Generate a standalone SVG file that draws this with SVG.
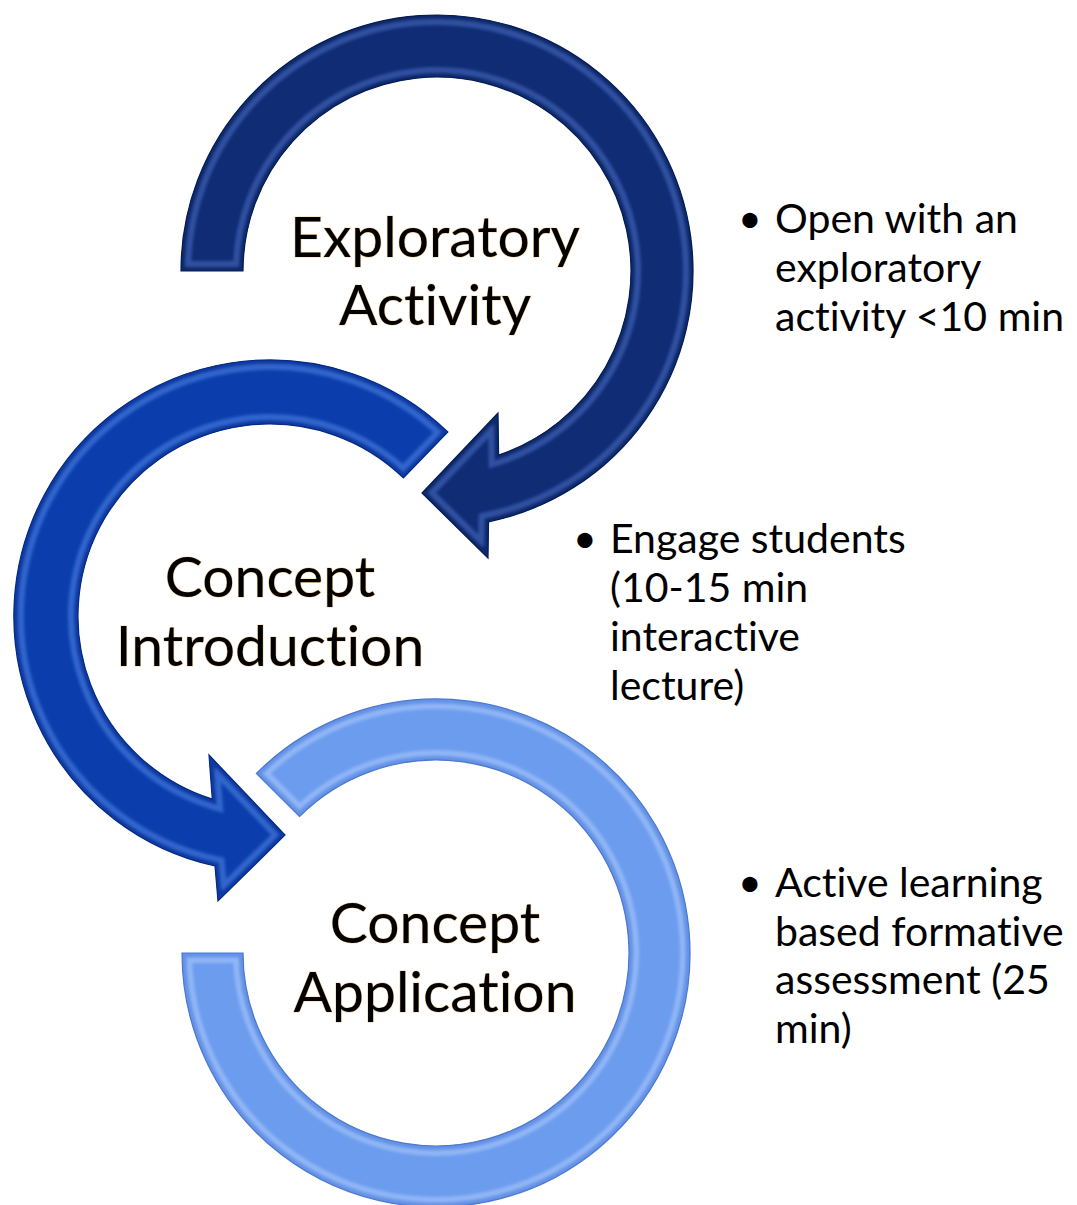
<svg xmlns="http://www.w3.org/2000/svg" xmlns:xlink="http://www.w3.org/1999/xlink" width="1077" height="1205" viewBox="0 0 1077 1205">
<style>
.label{font-family:Lato,"Open Sans","Liberation Sans",sans-serif;font-size:57px;fill:#000;text-anchor:middle;stroke:#f0a030;stroke-width:1.2px;stroke-opacity:0.45;paint-order:stroke;font-variant-ligatures:none;font-feature-settings:"liga" 0,"clig" 0}
.bul{font-family:Lato,"Open Sans","Liberation Sans",sans-serif;font-size:41px;fill:#000;font-variant-ligatures:none;font-feature-settings:"liga" 0,"clig" 0}
.edge{fill:none;stroke-linejoin:miter}
</style>
<defs>
<path id="p1" d="M181,271 A256,256 0 1 1 488.5,521.8 L488,558 L422,493 L498,413 L498.6,455 A194,194 0 1 0 243,271 Z"/>
<path id="p2" d="M447.8,431.9 A256,256 0 1 0 215,866 L218,901 L285,835 L209,755 L212.3,799.1 A192,192 0 1 1 403.4,477.9 Z"/>
<path id="p3" d="M182,953 A254,254 0 1 0 256.4,773.4 L299.5,816.5 A193,193 0 1 1 243,953 Z"/>
<clipPath id="c1"><use xlink:href="#p1"/></clipPath>
<clipPath id="c2"><use xlink:href="#p2"/></clipPath>
<clipPath id="c3"><use xlink:href="#p3"/></clipPath>
<filter id="soft" x="-10%" y="-10%" width="120%" height="120%"><feGaussianBlur stdDeviation="1.8"/></filter>
</defs>

<g id="connectors"></g>

<g id="node-application">
<use xlink:href="#p3" fill="#6c9cee"/>
<g clip-path="url(#c3)" filter="url(#soft)">
<use xlink:href="#p3" class="edge" stroke="#a8c8fc" stroke-width="20" stroke-opacity="0.6"/>
<use xlink:href="#p3" class="edge" stroke="#6392e6" stroke-width="9"/>
</g>
<use xlink:href="#p3" class="edge" stroke="#4c78cf" stroke-width="1.2"/>
<text class="label" x="435" y="943">Concept</text>
<text class="label" x="435" y="1012">Application</text>
</g>

<g id="node-introduction">
<use xlink:href="#p2" fill="#0b3eac"/>
<g clip-path="url(#c2)" filter="url(#soft)">
<use xlink:href="#p2" class="edge" stroke="#4f86ea" stroke-width="20" stroke-opacity="0.55"/>
<use xlink:href="#p2" class="edge" stroke="#0a3aa4" stroke-width="9"/>
</g>
<use xlink:href="#p2" class="edge" stroke="#072a80" stroke-width="1.2"/>
<text class="label" x="270" y="597">Concept</text>
<text class="label" x="270" y="666">Introduction</text>
</g>

<g id="node-exploratory">
<use xlink:href="#p1" fill="#0f2c74"/>
<g clip-path="url(#c1)" filter="url(#soft)">
<use xlink:href="#p1" class="edge" stroke="#4a70c8" stroke-width="20" stroke-opacity="0.55"/>
<use xlink:href="#p1" class="edge" stroke="#0e2a6e" stroke-width="9"/>
</g>
<use xlink:href="#p1" class="edge" stroke="#071c50" stroke-width="1.2"/>
<text class="label" x="435" y="257">Exploratory</text>
<text class="label" x="435" y="325">Activity</text>
</g>

<g id="note-exploratory">
<text class="bul" x="738" y="233">•</text>
<text class="bul" x="775" y="233">Open with an</text>
<text class="bul" x="775" y="282">exploratory</text>
<text class="bul" x="775" y="331">activity &lt;10 min</text>
</g>

<g id="note-introduction">
<text class="bul" x="573" y="553">•</text>
<text class="bul" x="610" y="553">Engage students</text>
<text class="bul" x="610" y="602">(10-15 min</text>
<text class="bul" x="610" y="651">interactive</text>
<text class="bul" x="610" y="700">lecture)</text>
</g>

<g id="note-application">
<text class="bul" x="738" y="897">•</text>
<text class="bul" x="775" y="897">Active learning</text>
<text class="bul" x="775" y="946">based formative</text>
<text class="bul" x="775" y="994">assessment (25</text>
<text class="bul" x="775" y="1043">min)</text>
</g>
</svg>
